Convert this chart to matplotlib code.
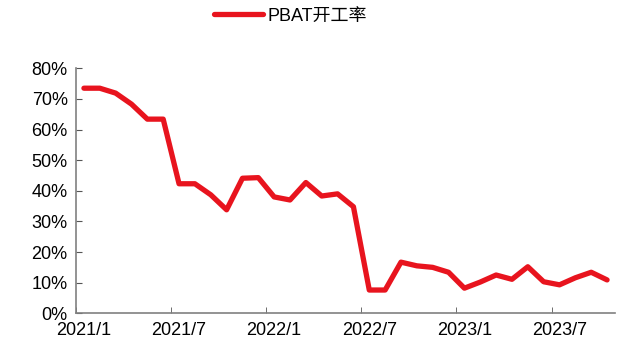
import matplotlib
matplotlib.use("Agg")
import matplotlib.pyplot as plt
from matplotlib.ticker import FixedLocator, PercentFormatter

plt.rcParams['font.family'] = ['Liberation Sans', 'Noto Sans CJK SC', 'DejaVu Sans']

# monthly operating rate, 2021/1 - 2023/10
months = ['2021/1', '2021/2', '2021/3', '2021/4', '2021/5', '2021/6',
          '2021/7', '2021/8', '2021/9', '2021/10', '2021/11', '2021/12',
          '2022/1', '2022/2', '2022/3', '2022/4', '2022/5', '2022/6',
          '2022/7', '2022/8', '2022/9', '2022/10', '2022/11', '2022/12',
          '2023/1', '2023/2', '2023/3', '2023/4', '2023/5', '2023/6',
          '2023/7', '2023/8', '2023/9', '2023/10']
rate = [73.5, 73.5, 71.9, 68.3, 63.4, 63.4,
        42.3, 42.3, 38.7, 33.8, 44.1, 44.3,
        38.0, 37.0, 42.7, 38.3, 39.0, 34.8,
        7.6, 7.6, 16.7, 15.5, 15.0, 13.4,
        8.2, 10.2, 12.5, 11.1, 15.2, 10.3,
        9.3, 11.6, 13.4, 10.9]
label_months = ['2021/1', '2021/7', '2022/1', '2022/7', '2023/1', '2023/7']

fig = plt.figure(figsize=(6.21, 3.51), dpi=100)
ax = fig.add_axes([76/621, 37.7/351, 539/621, 245/351])

x = list(range(len(months)))
ax.plot(x, rate, color='#E8141E', linewidth=3.8, solid_capstyle='round',
        solid_joinstyle='round', label='PBAT开工率')

ax.set_xlim(-0.5, len(months) - 0.5)
ax.set_ylim(0, 80)
ax.yaxis.set_major_locator(FixedLocator(range(0, 81, 10)))
ax.yaxis.set_major_formatter(PercentFormatter(decimals=0))

ax.set_xticks([months.index(m) for m in label_months])
ax.set_xticklabels(label_months)
ax.xaxis.set_minor_locator(FixedLocator([months.index(m) - 0.5 for m in label_months]))
ax.tick_params(axis='x', which='major', length=0, labelsize=13, pad=6)
ax.tick_params(axis='x', which='minor', direction='in', length=4, color='#555555')
ax.tick_params(axis='y', direction='in', length=4, color='#555555', labelsize=13, pad=6)

for side in ['top', 'right']:
    ax.spines[side].set_visible(False)
for side in ['left', 'bottom']:
    ax.spines[side].set_color('#808080')
    ax.spines[side].set_linewidth(1.2)

fig.legend(loc='upper center', bbox_to_anchor=(0.468, 1.025), frameon=False,
           fontsize=13, handlelength=2.7, handletextpad=0.3)

fig.savefig('out.png', dpi=100)
